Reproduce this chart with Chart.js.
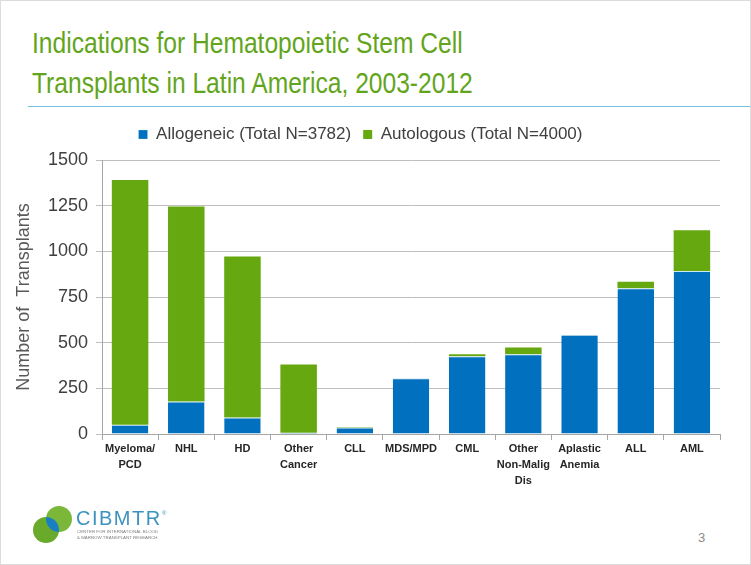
<!DOCTYPE html>
<html>
<head>
<meta charset="utf-8">
<script src="https://cdn.jsdelivr.net/npm/chart.js@4/dist/chart.umd.min.js"></script>
<style>
  html, body { margin: 0; padding: 0; background: #fff; }
  #slide {
    position: relative; width: 751px; height: 565px; overflow: hidden;
    box-sizing: border-box; border: 1px solid #dcdcdc; background: #fff;
  }
  #title {
    position: absolute; left: 31px; top: 22px; margin: 0; white-space: nowrap;
    font-family: "Liberation Sans", Arial, sans-serif;
    font-weight: normal; font-size: 30px; line-height: 40px; color: #62a51c;
    transform: scaleX(0.82); transform-origin: 0 0;
  }
  #rule { position: absolute; left: 27px; right: 0; top: 105px; height: 1px; background: #74c3dc; }
  #chartBox { position: absolute; left: 0; top: 112px; width: 751px; height: 390px; }
  #logo { position: absolute; left: 20px; top: 495px; }
  #pageNo {
    position: absolute; left: 697px; top: 529px;
    font-family: "Liberation Sans", Arial, sans-serif; font-size: 13px; color: #8c8c8c;
  }
</style>
</head>
<body>
<div id="slide">
  <h1 id="title">Indications for Hematopoietic Stem Cell<br>Transplants in Latin America, 2003-2012</h1>
  <div id="rule"></div>
  <div id="chartBox"><canvas id="chart"></canvas></div>
  <canvas id="logo" width="160" height="55"></canvas>
  <div id="pageNo">3</div>
</div>
<script>
// data
const categories = [
  ['Myeloma/', 'PCD'], 'NHL', 'HD', ['Other', 'Cancer'], 'CLL', 'MDS/MPD',
  'CML', ['Other', 'Non-Malig', 'Dis'], ['Aplastic', 'Anemia'], 'ALL', 'AML'
];
const allogeneic = [50, 178, 90, 7, 35, 305, 425, 437, 544, 798, 892];
const autologous = [1340, 1067, 882, 373, 3, 0, 11, 36, 0, 36, 224];
const yTicks = [0, 250, 500, 750, 1000, 1250, 1500];

const BLUE = '#0070bf';
const GREEN = '#66a80f';

// push the plot area a little further below the legend
const legendGap = {
    id: 'legendGap',
    beforeInit(chart) {
        const fit = chart.legend.fit;
        chart.legend.fit = function () {
            fit.call(this);
            this.height += 7;
        };
    }
};

new Chart(document.getElementById('chart').getContext('2d'), {
    type: 'bar',
    plugins: [legendGap],
    data: {
        labels: categories,
        datasets: [{
            label: 'Allogeneic (Total N=3782)',
            data: allogeneic,
            backgroundColor: BLUE,
            borderColor: '#cfe9f3',
            borderWidth: { top: 1 },
            borderSkipped: 'start',
            barPercentage: 0.65,
            categoryPercentage: 1.0
        }, {
            label: 'Autologous (Total N=4000)',
            data: autologous,
            backgroundColor: GREEN,
            borderWidth: 0,
            barPercentage: 0.65,
            categoryPercentage: 1.0
        }]
    },
    options: {
        responsive: true,
        maintainAspectRatio: false,
        animation: false,
        layout: { padding: { top: 1, right: 32, left: 0, bottom: 0 } },
        plugins: {
            tooltip: { enabled: false },
            legend: {
                display: true,
                position: 'top',
                labels: {
                    boxWidth: 9,
                    boxHeight: 9,
                    padding: 12,
                    color: '#404040',
                    font: { family: 'Liberation Sans, Arial, sans-serif', size: 17 }
                }
            }
        },
        scales: {
            x: {
                stacked: true,
                grid: {
                    display: true,
                    drawOnChartArea: false,
                    offset: true,
                    color: '#a6a6a6',
                    tickLength: 6
                },
                border: { color: '#a6a6a6' },
                ticks: {
                    color: '#262626',
                    padding: 1,
                    maxRotation: 0,
                    autoSkip: false,
                    font: { family: 'Liberation Sans, Arial, sans-serif', size: 11, weight: 'bold', lineHeight: 1.45 }
                },
                afterFit: (scale) => { scale.height = 69; }
            },
            y: {
                stacked: true,
                min: 0,
                max: 1500,
                afterBuildTicks: (scale) => { scale.ticks = yTicks.map(v => ({ value: v })); },
                grid: { color: '#bfbfbf', tickLength: 6 },
                border: { color: '#a6a6a6' },
                ticks: {
                    color: '#404040',
                    padding: 8,
                    callback: (v) => String(v),
                    font: { family: 'Liberation Sans, Arial, sans-serif', size: 18 }
                },
                title: {
                    display: true,
                    text: 'Number of  Transplants',
                    color: '#595959',
                    padding: { top: 12, bottom: 0 },
                    font: { family: 'Liberation Sans, Arial, sans-serif', size: 18 }
                },
                afterFit: (scale) => { scale.width = 101; }
            }
        }
    }
});

// CIBMTR logo (decoration)
(function drawLogo() {
    const c = document.getElementById('logo').getContext('2d');
    const a = { x: 25, y: 34, r: 13 };
    const b = { x: 38, y: 23, r: 13 };
    c.fillStyle = '#6aaa2a';
    c.beginPath(); c.arc(a.x, a.y, a.r, 0, Math.PI * 2); c.fill();
    c.fillStyle = '#7bb83a';
    c.beginPath(); c.arc(b.x, b.y, b.r, 0, Math.PI * 2); c.fill();
    c.save();
    c.beginPath(); c.arc(a.x, a.y, a.r, 0, Math.PI * 2); c.clip();
    c.fillStyle = '#1a7fc1';
    c.beginPath(); c.arc(b.x, b.y, b.r, 0, Math.PI * 2); c.fill();
    c.restore();
    c.fillStyle = '#3b92bd';
    c.font = '20px "Liberation Sans", Arial, sans-serif';
    c.letterSpacing = '1.5px';
    c.textBaseline = 'alphabetic';
    c.fillText('CIBMTR', 55, 29);
    c.letterSpacing = '0px';
    c.font = '6px "Liberation Sans", Arial, sans-serif';
    c.fillText('\u00AE', 141, 19);
    c.fillStyle = '#7f7f7f';
    c.font = '4.4px "Liberation Sans", Arial, sans-serif';
    c.fillText('CENTER FOR INTERNATIONAL BLOOD', 56, 37);
    c.fillText('& MARROW TRANSPLANT RESEARCH', 56, 43);
})();
</script>
</body>
</html>
